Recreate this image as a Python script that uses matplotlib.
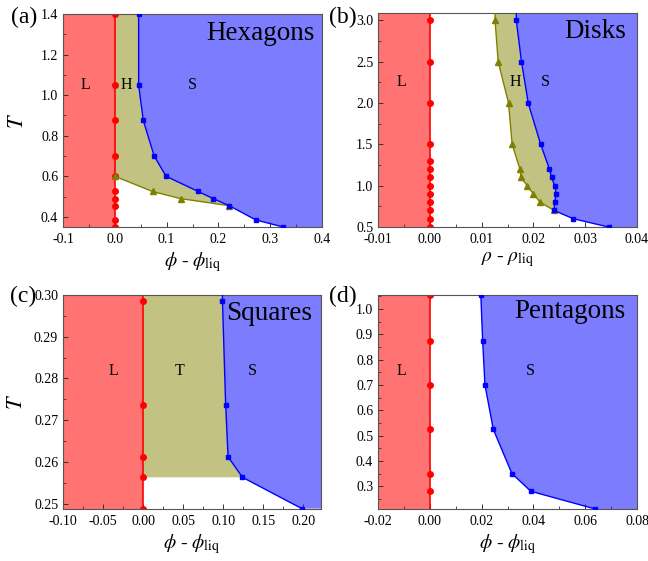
import numpy as np
import matplotlib
matplotlib.use("Agg")
import matplotlib.pyplot as plt
from matplotlib.ticker import MultipleLocator, FormatStrFormatter

plt.rcParams['font.family'] = ['Liberation Serif', 'DejaVu Serif']
plt.rcParams['mathtext.fontset'] = 'stix'
plt.rcParams['axes.unicode_minus'] = False

RED_FILL = '#FF7373'
BLUE_FILL = '#7C7CFF'
OLIVE_FILL = '#C2C283'
RED = '#FF0000'
BLUE = '#0000FF'
OLIVE = '#808000'

# ---------------- (a) Hexagons ----------------
a_liq_T = [1.4, 1.05, 0.875, 0.70, 0.60, 0.525, 0.49, 0.455, 0.385, 0.35]
a_liq_x = [0.0] * len(a_liq_T)
a_sol_x = [0.046, 0.046, 0.055, 0.076, 0.099, 0.161, 0.190, 0.221, 0.272, 0.325]
a_sol_T = [1.4, 1.05, 0.875, 0.70, 0.60, 0.525, 0.49, 0.455, 0.385, 0.35]
a_hex_x = [0.0, 0.073, 0.127, 0.221]
a_hex_T = [0.60, 0.525, 0.49, 0.455]

# ---------------- (b) Disks ----------------
b_liq_T = [3.0, 2.5, 2.0, 1.5, 1.3, 1.2, 1.1, 1.0, 0.9, 0.8, 0.7, 0.6, 0.5]
b_liq_x = [0.0] * len(b_liq_T)
b_sol_x = [0.0167, 0.0177, 0.0190, 0.0214, 0.0231, 0.0235, 0.0241, 0.0244, 0.0241, 0.0240, 0.0277, 0.0345]
b_sol_T = [3.0, 2.5, 2.0, 1.5, 1.2, 1.1, 1.0, 0.9, 0.8, 0.7, 0.6, 0.5]
b_hex_x = [0.0126, 0.0132, 0.0152, 0.0159, 0.0174, 0.0176, 0.0188, 0.0200, 0.0213, 0.0240]
b_hex_T = [3.0, 2.5, 2.0, 1.5, 1.2, 1.1, 1.0, 0.9, 0.8, 0.7]

# ---------------- (c) Squares ----------------
c_liq_T = [0.2986, 0.2737, 0.2612, 0.2563, 0.2488]
c_liq_x = [0.0] * len(c_liq_T)
c_sol_x = [0.099, 0.103, 0.106, 0.124, 0.198]
c_sol_T = [0.2986, 0.2737, 0.2612, 0.2563, 0.2488]
c_tet_T_low = 0.2563

# ---------------- (d) Pentagons ----------------
d_liq_T = [1.055, 0.875, 0.70, 0.525, 0.35, 0.28]
d_liq_x = [0.0] * len(d_liq_T)
d_sol_x = [0.0197, 0.0204, 0.0213, 0.0245, 0.0317, 0.0390, 0.0639]
d_sol_T = [1.055, 0.875, 0.70, 0.525, 0.35, 0.28, 0.21]

W, H = 648, 561
fig = plt.figure(figsize=(W / 100, H / 100), dpi=100)

def make_ax(l, t, r, b):
    return fig.add_axes([l / W, 1 - b / H, (r - l) / W, (b - t) / H])

def style(ax, xlim, ylim, xmaj, xmin, ymaj, ymin, xfmt, yfmt):
    ax.set_xlim(*xlim)
    ax.set_ylim(*ylim)
    ax.xaxis.set_major_locator(MultipleLocator(xmaj))
    ax.xaxis.set_minor_locator(MultipleLocator(xmin))
    ax.yaxis.set_major_locator(MultipleLocator(ymaj))
    ax.yaxis.set_minor_locator(MultipleLocator(ymin))
    ax.xaxis.set_major_formatter(FormatStrFormatter(xfmt))
    ax.yaxis.set_major_formatter(FormatStrFormatter(yfmt))
    ax.tick_params(which='both', direction='in', labelsize=10, colors='#333333', labelcolor='black')
    ax.tick_params(axis='x', which='major', pad=4.3)
    ax.tick_params(which='major', length=3.5, width=0.7)
    ax.tick_params(which='minor', length=2, width=0.6)
    for s in ax.spines.values():
        s.set_color('#555555')
        s.set_linewidth(0.8)

def liquid(ax, lx, lT, xlim, ylim):
    ax.axvspan(xlim[0], 0, color=RED_FILL, lw=0, zorder=0)
    ax.plot([0, 0], ylim, '-', color=RED, lw=1.2, zorder=2)
    ax.plot(lx, lT, 'o', color=RED, ms=4, zorder=2)

LBL = 11.5
TITLE = 19.5
XL = 14

# ---- (a)
ax = make_ax(63, 14, 322, 227)
xl, yl = (-0.1, 0.4), (0.35, 1.4)
liquid(ax, a_liq_x, a_liq_T, xl, yl)
sx = np.array(a_sol_x); sT = np.array(a_sol_T)
ax.fill(np.r_[sx, xl[1], xl[1]], np.r_[sT, sT[-1], sT[0]], color=BLUE_FILL, lw=0, zorder=1)
hx = np.r_[0.0, a_hex_x, sx[:8][::-1]]
hT = np.r_[yl[1], a_hex_T, sT[:8][::-1]]
ax.fill(hx, hT, color=OLIVE_FILL, lw=0, zorder=1)
ax.plot(a_hex_x, a_hex_T, '-^', color=OLIVE, ms=4.5, lw=1.0, zorder=4)
ax.plot(sx, sT, '-s', color=BLUE, ms=3.5, lw=1.0, zorder=4)
style(ax, xl, yl, 0.1, 0.05, 0.2, 0.1, '%.1f', '%.1f')
ax.text(-0.056, 1.05, 'L', ha='center', va='center', fontsize=LBL)
ax.text(0.023, 1.05, 'H', ha='center', va='center', fontsize=LBL)
ax.text(0.15, 1.05, 'S', ha='center', va='center', fontsize=LBL)
ax.text(0.385, 1.305, 'Hexagons', ha='right', va='center', fontsize=TITLE)
ax.set_xlabel(r'$\phi$ - $\phi_{\rm liq}$', fontsize=XL, labelpad=3)
ax.set_ylabel(r'$T$', fontsize=16, labelpad=9.5)
fig.text(11 / W, 1 - 17 / H, '(a)', fontsize=17, va='center', ha='left')

# ---- (b)
ax = make_ax(378, 13, 637, 227)
xl, yl = (-0.01, 0.04), (0.5, 3.09)
liquid(ax, b_liq_x, b_liq_T, xl, yl)
sx = np.array(b_sol_x); sT = np.array(b_sol_T)
ax.fill(np.r_[sx[0], sx, xl[1], xl[1]], np.r_[yl[1], sT, sT[-1], yl[1]], color=BLUE_FILL, lw=0, zorder=1)
hxv = np.array(b_hex_x); hTv = np.array(b_hex_T)
ax.fill(np.r_[hxv[0], hxv, sx[:10][::-1], sx[0]], np.r_[yl[1], hTv, sT[:10][::-1], yl[1]],
        color=OLIVE_FILL, lw=0, zorder=1)
ax.plot(np.r_[hxv[0], hxv], np.r_[yl[1], hTv], '-', color=OLIVE, lw=1.0, zorder=4)
ax.plot(hxv, hTv, '^', color=OLIVE, ms=4.5, zorder=4)
ax.plot(np.r_[sx[0], sx], np.r_[yl[1], sT], '-', color=BLUE, lw=1.0, zorder=4)
ax.plot(sx, sT, 's', color=BLUE, ms=3.5, zorder=4)
style(ax, xl, yl, 0.01, 0.005, 0.5, 0.25, '%.2f', '%.1f')
ax.text(-0.0055, 2.26, 'L', ha='center', va='center', fontsize=LBL)
ax.text(0.0165, 2.26, 'H', ha='center', va='center', fontsize=LBL)
ax.text(0.0224, 2.26, 'S', ha='center', va='center', fontsize=LBL)
ax.text(0.038, 2.87, 'Disks', ha='right', va='center', fontsize=TITLE)
ax.set_xlabel(r'$\rho$ - $\rho_{\rm liq}$', fontsize=XL, labelpad=3)
fig.text(329 / W, 1 - 17 / H, '(b)', fontsize=17, va='center', ha='left')

# ---- (c)
ax = make_ax(63, 295, 321, 509)
xl, yl = (-0.1, 0.222), (0.2487, 0.30)
liquid(ax, c_liq_x, c_liq_T, xl, yl)
sx = np.array(c_sol_x); sT = np.array(c_sol_T)
ax.fill(np.r_[sx[0], sx, xl[1], xl[1]], np.r_[yl[1], sT, sT[-1], yl[1]], color=BLUE_FILL, lw=0, zorder=1)
ax.fill(np.r_[0, 0, sx[3], sx[2], sx[1], sx[0], sx[0]],
        np.r_[yl[1], c_tet_T_low, sT[3], sT[2], sT[1], sT[0], yl[1]], color=OLIVE_FILL, lw=0, zorder=1)
ax.plot(np.r_[sx[0], sx], np.r_[yl[1], sT], '-', color=BLUE, lw=1.0, zorder=4)
ax.plot(sx, sT, 's', color=BLUE, ms=3.5, zorder=4)
style(ax, xl, yl, 0.05, 0.025, 0.01, 0.005, '%.2f', '%.2f')
ax.text(-0.0375, 0.2819, 'L', ha='center', va='center', fontsize=LBL)
ax.text(0.046, 0.2819, 'T', ha='center', va='center', fontsize=LBL)
ax.text(0.136, 0.2819, 'S', ha='center', va='center', fontsize=LBL)
ax.text(0.2108, 0.2956, 'Squares', ha='right', va='center', fontsize=TITLE)
ax.set_xlabel(r'$\phi$ - $\phi_{\rm liq}$', fontsize=XL, labelpad=3)
ax.set_ylabel(r'$T$', fontsize=16, labelpad=5)
fig.text(10 / W, 1 - 296 / H, '(c)', fontsize=17, va='center', ha='left')

# ---- (d)
ax = make_ax(378, 295, 637, 509)
xl, yl = (-0.02, 0.08), (0.21, 1.055)
liquid(ax, d_liq_x, d_liq_T, xl, yl)
sx = np.array(d_sol_x); sT = np.array(d_sol_T)
ax.fill(np.r_[sx, xl[1], xl[1]], np.r_[sT, sT[-1], sT[0]], color=BLUE_FILL, lw=0, zorder=1)
ax.plot(sx, sT, '-s', color=BLUE, ms=3.5, lw=1.0, zorder=4)
style(ax, xl, yl, 0.02, 0.01, 0.1, 0.05, '%.2f', '%.1f')
ax.text(-0.011, 0.753, 'L', ha='center', va='center', fontsize=LBL)
ax.text(0.039, 0.753, 'S', ha='center', va='center', fontsize=LBL)
ax.text(0.0754, 0.99, 'Pentagons', ha='right', va='center', fontsize=TITLE)
ax.set_xlabel(r'$\phi$ - $\phi_{\rm liq}$', fontsize=XL, labelpad=3)
fig.text(329 / W, 1 - 296 / H, '(d)', fontsize=17, va='center', ha='left')

fig.savefig('out.png', dpi=100)
